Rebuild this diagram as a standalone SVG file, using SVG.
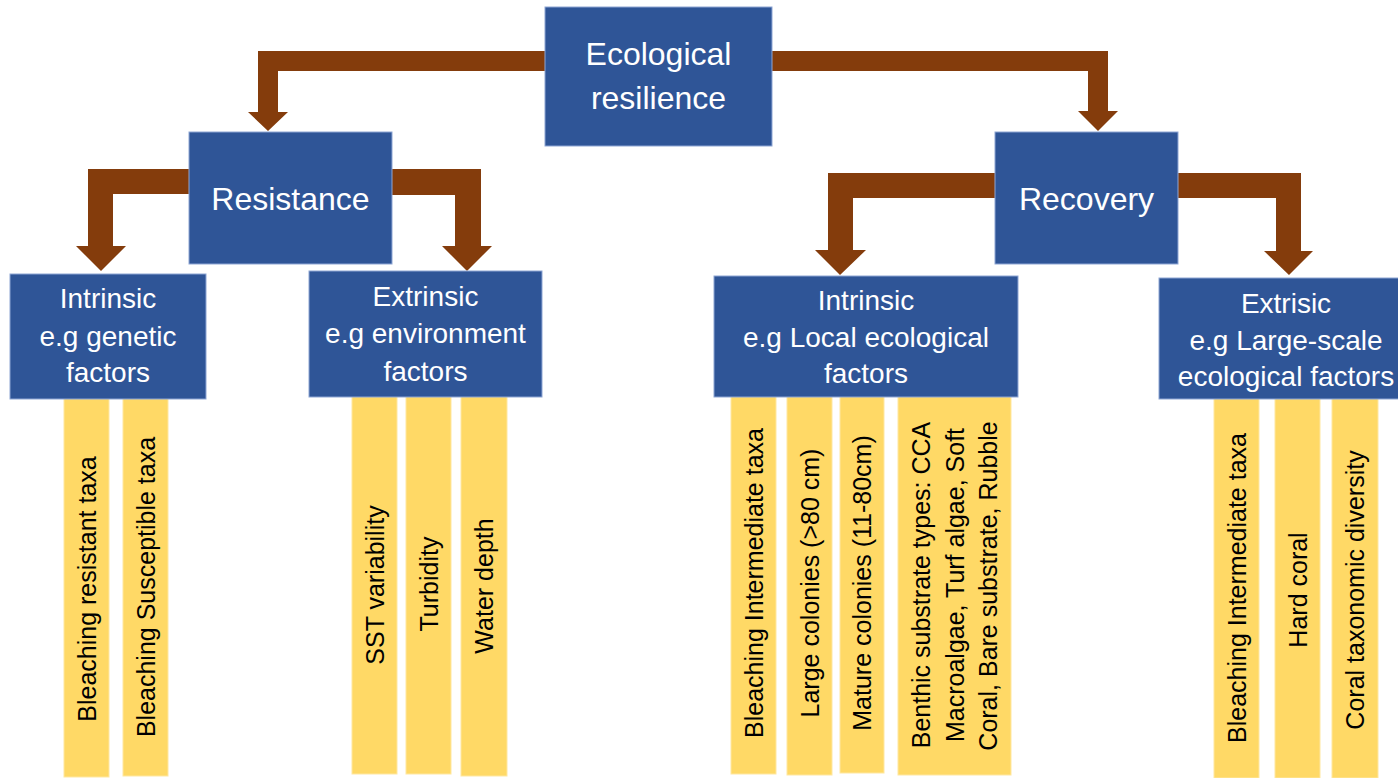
<svg xmlns="http://www.w3.org/2000/svg" width="1398" height="778" viewBox="0 0 1398 778">
<style>
.box{fill:#2F5597;stroke:#8ea6d4;stroke-width:1}
.bar{fill:#FFD966;stroke:#ffe7a0;stroke-width:1}
.arr{fill:#843C0C}
.bt{font-family:"Liberation Sans",Arial,sans-serif;fill:#ffffff;text-anchor:middle}
.big{font-size:32px}
.mid{font-size:28px}
.lab{font-family:"Liberation Sans",Arial,sans-serif;font-size:25px;fill:#000000;text-anchor:middle}
</style>
<rect width="1398" height="778" fill="#ffffff"/>
<g id="connectors">
<polygon class="arr" points="545,51 258,51 258,112 248,112 268,131 288,112 278,112 278,71 545,71"/>
<polygon class="arr" points="772,51 1108,51 1108,111 1118,111 1098,131 1078,111 1088,111 1088,71 772,71"/>
<polygon class="arr" points="189,169 88,169 88,246 76,246 101,271 126,246 113,246 113,194 189,194"/>
<polygon class="arr" points="392,169 481,169 481,246 492,246 467,271 442,246 455,246 455,195 392,195"/>
<polygon class="arr" points="995,173 828,173 828,250 815,250 840,275 866,250 853,250 853,198 995,198"/>
<polygon class="arr" points="1178,173 1301,173 1301,251 1313,251 1289,275 1264,251 1276,251 1276,198 1178,198"/>
</g>
<g id="bars">
<g id="bar-resistant"><rect class="bar" x="64" y="397" width="45" height="380"/><text class="lab" transform="translate(95.5,589) rotate(-90)">Bleaching resistant taxa</text></g>
<g id="bar-susceptible"><rect class="bar" x="123" y="397" width="45" height="379"/><text class="lab" transform="translate(154.5,587) rotate(-90)">Bleaching Susceptible taxa</text></g>
<g id="bar-sst"><rect class="bar" x="352" y="395" width="45" height="379"/><text class="lab" transform="translate(383.5,585) rotate(-90)">SST variability</text></g>
<g id="bar-turbidity"><rect class="bar" x="406" y="395" width="45" height="379"/><text class="lab" transform="translate(437.5,584) rotate(-90)">Turbidity</text></g>
<g id="bar-depth"><rect class="bar" x="461" y="395" width="46" height="381"/><text class="lab" transform="translate(493,586) rotate(-90)">Water depth</text></g>
<g id="bar-intermediate1"><rect class="bar" x="731" y="395" width="45" height="379"/><text class="lab" transform="translate(762.5,583) rotate(-90)">Bleaching Intermediate taxa</text></g>
<g id="bar-large"><rect class="bar" x="787" y="395" width="45" height="380"/><text class="lab" transform="translate(818.5,583) rotate(-90)">Large colonies (&gt;80 cm)</text></g>
<g id="bar-mature"><rect class="bar" x="840" y="395" width="44" height="378"/><text class="lab" transform="translate(871,583) rotate(-90)">Mature colonies (11-80cm)</text></g>
<g id="bar-benthic"><rect class="bar" x="898" y="395" width="113" height="380"/>
<text class="lab" transform="translate(930,585) rotate(-90)">Benthic substrate types: CCA</text>
<text class="lab" transform="translate(963.5,585) rotate(-90)">Macroalgae, Turf algae, Soft</text>
<text class="lab" transform="translate(997,586) rotate(-90)">Coral, Bare substrate, Rubble</text></g>
<g id="bar-intermediate2"><rect class="bar" x="1214" y="397" width="45" height="381"/><text class="lab" transform="translate(1246,588) rotate(-90)">Bleaching Intermediate taxa</text></g>
<g id="bar-hardcoral"><rect class="bar" x="1275" y="397" width="45" height="381"/><text class="lab" transform="translate(1307,590) rotate(-90)">Hard coral</text></g>
<g id="bar-diversity"><rect class="bar" x="1332" y="397" width="46" height="381"/><text class="lab" transform="translate(1364,590) rotate(-90)">Coral taxonomic diversity</text></g>
</g>
<g id="node-ecological"><rect class="box" x="545" y="7" width="227" height="139"/><text class="bt big" x="658.5" y="65">Ecological</text><text class="bt big" x="658.5" y="109">resilience</text></g>
<g id="node-resistance"><rect class="box" x="189" y="132" width="203" height="132"/><text class="bt big" x="290.5" y="210">Resistance</text></g>
<g id="node-recovery"><rect class="box" x="995" y="132" width="183" height="132"/><text class="bt big" x="1086.5" y="210">Recovery</text></g>
<g id="node-intrinsic-res"><rect class="box" x="10" y="274" width="196" height="125"/><text class="bt mid" x="108" y="308">Intrinsic</text><text class="bt mid" x="108" y="346">e.g genetic</text><text class="bt mid" x="108" y="382">factors</text></g>
<g id="node-extrinsic-res"><rect class="box" x="309" y="271" width="233" height="126"/><text class="bt mid" x="425.5" y="306">Extrinsic</text><text class="bt mid" x="425.5" y="343">e.g environment</text><text class="bt mid" x="425.5" y="381">factors</text></g>
<g id="node-intrinsic-rec"><rect class="box" x="714" y="276" width="304" height="121"/><text class="bt mid" x="866" y="310">Intrinsic</text><text class="bt mid" x="866" y="347">e.g Local ecological</text><text class="bt mid" x="866" y="383">factors</text></g>
<g id="node-extrisic-rec"><rect class="box" x="1159" y="278" width="245" height="121"/><text class="bt mid" x="1286" y="313">Extrisic</text><text class="bt mid" x="1286" y="350">e.g Large-scale</text><text class="bt mid" x="1286" y="386">ecological factors</text></g>
</svg>
